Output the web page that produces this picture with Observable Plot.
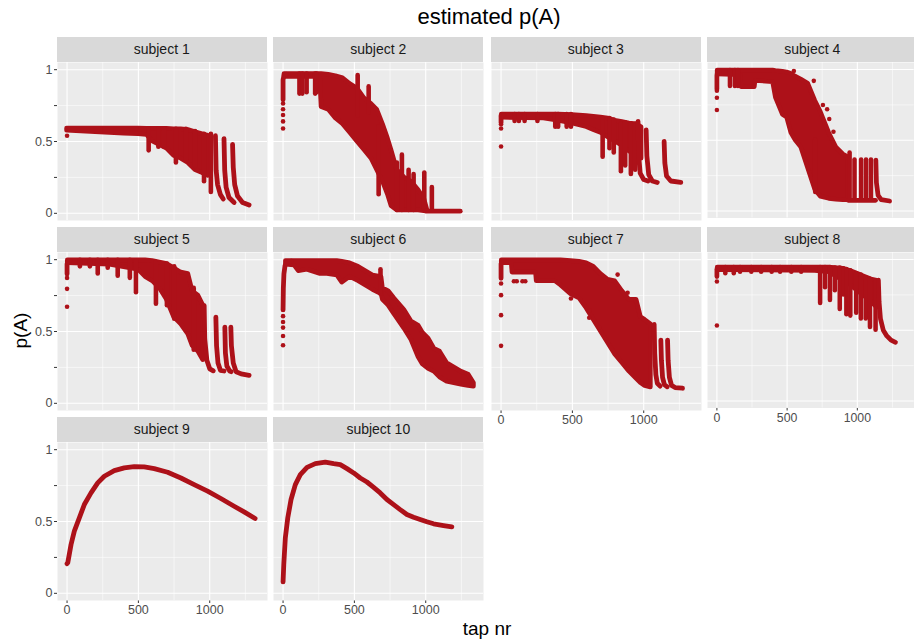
<!DOCTYPE html>
<html><head><meta charset="utf-8">
<script src="https://cdn.jsdelivr.net/npm/d3@7"></script>
<script src="https://cdn.jsdelivr.net/npm/@observablehq/plot@0.6"></script>
<style>
body{margin:0;background:#fff;}
#wrap{position:relative;width:914px;height:640px;overflow:hidden;font-family:"Liberation Sans",Arial,sans-serif;background:#fff;}
.strip{position:absolute;height:25px;background:#D9D9D9;color:#1A1A1A;font-size:14px;line-height:25px;text-align:center;white-space:nowrap;}
.panel{position:absolute;}
.panel svg{display:block;}
.panel svg text{font-size:12.5px;fill:#4D4D4D;font-family:"Liberation Sans",Arial,sans-serif;}
.lbl{position:absolute;color:#000;white-space:nowrap;text-align:center;}
</style></head>
<body><div id="wrap"></div>
<script>
const subjects = ["subject 1","subject 2","subject 3","subject 4","subject 5","subject 6","subject 7","subject 8","subject 9","subject 10"];
const xTicks = [0, 500, 1000];
const xMinor = [250, 750, 1250];
const yTicks = [0, 0.25, 0.5, 0.75, 1];
const yMajor = [0, 0.5, 1];
const yMinor = [0.25, 0.75];

// isolated points [subject, tap, p]
const dots = [
  [1,0,0.54],
  [2,0,0.59],[2,0,0.64],[2,0,0.685],[2,0,0.725],[2,0,0.765],
  [3,0,0.465],[3,0,0.59],[3,0,0.62],
  [4,0,0.714],[4,0,0.8],[4,0,0.85],[4,548,0.99],[4,690,0.92],[4,755,0.75],[4,785,0.72],[4,800,0.65],[4,830,0.56],
  [5,0,0.672],[5,0,0.797],[5,0,0.873],
  [6,0,0.404],[6,0,0.469],[6,0,0.527],[6,0,0.566],[6,0,0.607],
  [7,0,0.40],[7,0,0.614],[7,0,0.753],[7,0,0.834],[7,90,0.85],[7,110,0.85],[7,150,0.85],[7,170,0.85],
  [7,490,0.73],[7,618,0.647],[7,618,0.596],[7,688,0.527],[7,817,0.896],[7,887,0.77],[7,945,0.71],
  [8,0,0.533],[8,0,0.845]
];

// dense clouds [subject, tap, low, high]
const bands = [
  [1,0,0.575,0.59],[1,100,0.57,0.59],[1,200,0.565,0.59],[1,300,0.56,0.59],[1,400,0.555,0.59],[1,500,0.55,0.59],[1,560,0.545,0.588],[1,600,0.5,0.588],[1,700,0.45,0.588],[1,750,0.4,0.585],[1,800,0.38,0.585],[1,850,0.35,0.58],[1,900,0.3,0.565],[1,950,0.28,0.55],[1,990,0.26,0.54],
  [2,10,0.95,0.97],[2,260,0.95,0.97],[2,270,0.74,0.97],[2,320,0.72,0.965],[2,370,0.66,0.955],[2,420,0.62,0.94],[2,470,0.56,0.9],[2,520,0.5,0.87],[2,570,0.44,0.8],[2,620,0.38,0.76],[2,660,0.3,0.72],[2,700,0.22,0.62],[2,735,0.13,0.52],[2,760,0.05,0.44],[2,800,0.02,0.3],[2,850,0.02,0.25],[2,900,0.02,0.22],[2,950,0.02,0.16],[2,990,0.015,0.1],[2,1010,0.015,0.03],
  [3,5,0.665,0.688],[3,300,0.66,0.688],[3,400,0.645,0.688],[3,500,0.625,0.685],[3,600,0.6,0.678],[3,650,0.58,0.672],[3,700,0.56,0.667],[3,750,0.53,0.66],[3,800,0.5,0.645],[3,850,0.47,0.635],[3,900,0.43,0.625],[3,950,0.4,0.62],[3,985,0.38,0.6],
  [4,5,0.965,0.993],[4,170,0.96,0.993],[4,175,0.875,0.993],[4,270,0.875,0.993],[4,275,0.92,0.993],[4,400,0.91,0.993],[4,420,0.8,0.99],[4,470,0.68,0.985],[4,500,0.66,0.98],[4,530,0.55,0.97],[4,560,0.5,0.95],[4,600,0.45,0.93],[4,650,0.3,0.9],[4,700,0.15,0.78],[4,740,0.1,0.7],[4,800,0.085,0.55],[4,850,0.08,0.45],[4,900,0.075,0.4],[4,935,0.075,0.38],
  [5,5,0.975,0.995],[5,300,0.965,0.995],[5,500,0.93,0.995],[5,550,0.88,0.995],[5,600,0.85,0.99],[5,650,0.8,0.98],[5,700,0.72,0.97],[5,750,0.6,0.94],[5,800,0.55,0.91],[5,850,0.48,0.9],[5,880,0.4,0.78],[5,920,0.36,0.75],[5,955,0.3,0.68],
  [6,20,0.965,0.99],[6,80,0.96,0.99],[6,110,0.92,0.99],[6,170,0.93,0.99],[6,262,0.9,0.99],[6,310,0.9,0.99],[6,380,0.89,0.99],[6,415,0.84,0.985],[6,470,0.88,0.975],[6,530,0.85,0.95],[6,580,0.82,0.92],[6,630,0.79,0.89],[6,690,0.76,0.88],[6,700,0.72,0.8],[6,740,0.68,0.78],[6,780,0.62,0.73],[6,850,0.52,0.65],[6,900,0.44,0.57],[6,950,0.32,0.54],[6,980,0.27,0.49],[6,1020,0.24,0.45],[6,1060,0.22,0.38],[6,1100,0.18,0.36],[6,1150,0.15,0.28],[6,1200,0.14,0.25],[6,1250,0.13,0.22],[6,1300,0.12,0.2],[6,1338,0.115,0.14],
  [7,5,0.975,0.995],[7,75,0.975,0.995],[7,80,0.91,0.995],[7,245,0.91,0.995],[7,250,0.85,0.995],[7,380,0.85,0.995],[7,420,0.82,0.995],[7,490,0.76,0.99],[7,550,0.73,0.985],[7,600,0.66,0.975],[7,650,0.58,0.95],[7,700,0.5,0.9],[7,750,0.42,0.86],[7,800,0.34,0.85],[7,850,0.28,0.78],[7,900,0.22,0.72],[7,950,0.17,0.72],[7,980,0.14,0.6],[7,1010,0.12,0.58],[7,1050,0.11,0.55],
  [8,5,0.925,0.943],[8,700,0.92,0.943],[8,800,0.91,0.943],[8,900,0.85,0.935],[8,950,0.82,0.92],[8,1000,0.78,0.9],[8,1050,0.74,0.88],[8,1100,0.7,0.86],[8,1140,0.66,0.85]
];

// vertical streaks of points [subject, tap, low, high]
const spikes = [
  [1,572,0.435,0.585],[1,640,0.46,0.585],[1,680,0.46,0.585],[1,763,0.35,0.585],[1,833,0.365,0.585],[1,897,0.32,0.57],[1,960,0.22,0.55],[1,1008,0.145,0.55],
  [2,115,0.83,0.97],[2,135,0.83,0.97],[2,165,0.84,0.97],[2,225,0.83,0.97],[2,235,0.84,0.97],[2,523,0.68,0.96],[2,600,0.7,0.88],[2,670,0.13,0.6],[2,798,0.02,0.35],[2,833,0.02,0.405],[2,880,0.02,0.3],[2,915,0.02,0.27],[2,990,0.02,0.28],[2,1043,0.02,0.18],
  [3,95,0.64,0.688],[3,125,0.64,0.688],[3,165,0.64,0.688],[3,255,0.64,0.688],[3,380,0.6,0.688],[3,400,0.6,0.688],[3,460,0.6,0.688],[3,490,0.6,0.688],[3,712,0.39,0.66],[3,760,0.45,0.66],[3,790,0.42,0.65],[3,840,0.29,0.62],[3,870,0.33,0.63],[3,910,0.27,0.62],[3,940,0.3,0.62],
  [4,93,0.88,0.993],[4,128,0.88,0.993],[4,150,0.88,0.993],[4,700,0.13,0.5],[4,945,0.08,0.41],[4,980,0.075,0.36],[4,1027,0.075,0.36],[4,1062,0.075,0.36],[4,1097,0.075,0.36],
  [5,90,0.95,0.995],[5,160,0.95,0.995],[5,215,0.9,0.995],[5,285,0.94,0.995],[5,355,0.885,0.995],[5,440,0.87,0.995],[5,483,0.77,0.99],[5,623,0.69,0.98],[5,700,0.68,0.97],[5,751,0.585,0.95],[5,888,0.37,0.8],
  [6,683,0.76,0.93],
  [8,60,0.9,0.943],[8,120,0.9,0.943],[8,165,0.91,0.943],[8,245,0.91,0.943],[8,315,0.91,0.943],[8,390,0.91,0.943],[8,450,0.91,0.943],[8,530,0.91,0.943],[8,600,0.91,0.943],[8,735,0.69,0.943],[8,770,0.8,0.943],[8,805,0.71,0.943],[8,840,0.78,0.94],[8,875,0.647,0.94],[8,900,0.75,0.935],[8,922,0.61,0.93],[8,950,0.6,0.92],[8,992,0.62,0.9],[8,1025,0.58,0.89],[8,1060,0.58,0.87],[8,1090,0.52,0.86],[8,1130,0.5,0.85]
];

// traced runs of points [subject, run, tap, p]
const curves = [
  [1,"a",1040,0.54],[1,"a",1045,0.3],[1,"a",1055,0.2],[1,"a",1075,0.13],[1,"a",1095,0.1],
  [1,"b",1100,0.52],[1,"b",1105,0.3],[1,"b",1115,0.18],[1,"b",1135,0.11],[1,"b",1171,0.075],
  [1,"c",1160,0.48],[1,"c",1165,0.32],[1,"c",1175,0.2],[1,"c",1195,0.12],[1,"c",1230,0.075],[1,"c",1276,0.058],
  [2,"a",0,0.79],[2,"a",0,0.93],[2,"a",8,0.965],[2,"a",20,0.968],
  [2,"b",1000,0.015],[2,"b",1242,0.015],
  [3,"a",0,0.63],[3,"a",0,0.68],[3,"a",8,0.686],[3,"a",20,0.686],
  [3,"b",960,0.64],[3,"b",965,0.4],[3,"b",975,0.28],[3,"b",1000,0.235],[3,"b",1030,0.225],
  [3,"c",1017,0.58],[3,"c",1022,0.4],[3,"c",1035,0.27],[3,"c",1060,0.225],[3,"c",1095,0.215],
  [3,"d",1143,0.5],[3,"d",1148,0.35],[3,"d",1160,0.26],[3,"d",1190,0.225],[3,"d",1260,0.215],
  [4,"a",0,0.86],[4,"a",0,0.96],[4,"a",8,0.99],[4,"a",20,0.993],
  [4,"b",1132,0.36],[4,"b",1136,0.2],[4,"b",1148,0.11],[4,"b",1170,0.08],[4,"b",1230,0.07],
  [4,"c",935,0.075],[4,"c",1130,0.075],
  [5,"a",0,0.9],[5,"a",0,0.97],[5,"a",8,0.993],[5,"a",20,0.993],
  [5,"b",961,0.68],[5,"b",965,0.45],[5,"b",980,0.3],[5,"b",1000,0.24],[5,"b",1025,0.226],
  [5,"c",1043,0.6],[5,"c",1048,0.4],[5,"c",1058,0.28],[5,"c",1075,0.23],[5,"c",1100,0.225],
  [5,"d",1106,0.53],[5,"d",1110,0.35],[5,"d",1120,0.26],[5,"d",1140,0.225],[5,"d",1150,0.22],
  [5,"e",1148,0.53],[5,"e",1152,0.4],[5,"e",1165,0.28],[5,"e",1185,0.22],[5,"e",1220,0.205],[5,"e",1276,0.195],
  [6,"a",0,0.65],[6,"a",2,0.8],[6,"a",6,0.9],[6,"a",14,0.96],[6,"a",30,0.985],[6,"a",60,0.99],
  [7,"a",0,0.87],[7,"a",0,0.97],[7,"a",8,0.995],[7,"a",20,0.995],
  [7,"b",1073,0.55],[7,"b",1077,0.35],[7,"b",1085,0.2],[7,"b",1095,0.14],[7,"b",1115,0.12],
  [7,"c",1120,0.44],[7,"c",1124,0.3],[7,"c",1132,0.18],[7,"c",1145,0.13],[7,"c",1165,0.115],
  [7,"d",1167,0.44],[7,"d",1171,0.3],[7,"d",1180,0.18],[7,"d",1195,0.125],[7,"d",1220,0.11],[7,"d",1272,0.105],
  [8,"a",0,0.88],[8,"a",0,0.93],[8,"a",8,0.94],[8,"a",20,0.94],
  [8,"b",1150,0.855],[8,"b",1155,0.7],[8,"b",1165,0.58],[8,"b",1185,0.5],[8,"b",1210,0.46],[8,"b",1240,0.43],[8,"b",1272,0.415],
  [9,"a",0,0.206],[9,"a",5,0.213],[9,"a",28,0.34],[9,"a",51,0.433],[9,"a",86,0.525],[9,"a",121,0.618],[9,"a",168,0.699],[9,"a",215,0.769],[9,"a",261,0.815],[9,"a",331,0.854],[9,"a",401,0.873],[9,"a",471,0.882],[9,"a",541,0.88],[9,"a",611,0.868],[9,"a",705,0.843],[9,"a",798,0.803],[9,"a",891,0.757],[9,"a",985,0.711],[9,"a",1078,0.66],[9,"a",1171,0.606],[9,"a",1241,0.567],[9,"a",1318,0.521],
  [10,"a",0,0.08],[10,"a",5,0.2],[10,"a",16,0.387],[10,"a",33,0.525],[10,"a",56,0.653],[10,"a",86,0.757],[10,"a",121,0.826],[10,"a",168,0.877],[10,"a",226,0.903],[10,"a",296,0.914],[10,"a",355,0.903],[10,"a",401,0.896],[10,"a",448,0.868],[10,"a",495,0.838],[10,"a",541,0.803],[10,"a",588,0.775],[10,"a",635,0.738],[10,"a",681,0.699],[10,"a",728,0.653],[10,"a",775,0.618],[10,"a",821,0.583],[10,"a",868,0.549],[10,"a",915,0.53],[10,"a",961,0.514],[10,"a",1008,0.498],[10,"a",1055,0.484],[10,"a",1125,0.472],[10,"a",1183,0.463]
];

const RED = "#AD1119";
const colLeft = [56.7, 273.3, 490.7, 707.3];
const rowTop = [36.7, 226.7, 416.7];
const PW = 210, PH = 158, SH = 25;
const wrap = document.getElementById("wrap");

function addLabel(text, x, baseline, fs, rotate) {
  const d = document.createElement("div");
  d.className = "lbl";
  d.textContent = text;
  d.style.fontSize = fs + "px";
  d.style.lineHeight = fs + "px";
  d.style.width = "200px";
  d.style.left = (x - 100) + "px";
  if (rotate) {
    d.style.top = (baseline - fs / 2) + "px";
    d.style.transform = "rotate(-90deg)";
  } else {
    d.style.top = (baseline - 0.846 * fs) + "px";
  }
  wrap.appendChild(d);
}

subjects.forEach((name, i) => {
  const s = i + 1;
  const col = i % 4, row = Math.floor(i / 4);
  const showY = col === 0;
  const showX = row === 2 || (row === 1 && col >= 2);
  const ml = showY ? 40 : 0, mb = showX ? 26 : 0;

  const strip = document.createElement("div");
  strip.className = "strip";
  strip.style.left = colLeft[col] + "px";
  strip.style.top = rowTop[row] + "px";
  strip.style.width = PW + "px";
  strip.textContent = name;
  wrap.appendChild(strip);

  const sb = bands.filter(d => d[0] === s);
  const ss = spikes.filter(d => d[0] === s);
  const sc = curves.filter(d => d[0] === s);
  const sd = dots.filter(d => d[0] === s);

  const plot = Plot.plot({
    width: PW + ml, height: PH + mb,
    marginLeft: ml, marginRight: 0, marginTop: 0, marginBottom: mb,
    style: {background: "transparent", color: "#333333", overflow: "visible"},
    x: {domain: [-67, 1405], ticks: xTicks, tickFormat: d => String(d), tickSize: 3, tickPadding: 2, label: null, axis: showX ? "bottom" : null},
    y: {domain: [-0.05, 1.05], ticks: yTicks, tickSize: 3, tickPadding: 2, label: null,
        tickFormat: d => (yMajor.includes(d) ? String(d) : ""), axis: showY ? "left" : null},
    marks: [
      Plot.frame({fill: "#EBEBEB", stroke: "none"}),
      Plot.ruleY(yMinor, {stroke: "#ffffff", strokeWidth: 0.55}),
      Plot.ruleX(xMinor, {stroke: "#ffffff", strokeWidth: 0.55}),
      Plot.ruleY(yMajor, {stroke: "#ffffff", strokeWidth: 1.1}),
      Plot.ruleX(xTicks, {stroke: "#ffffff", strokeWidth: 1.1}),
      Plot.areaY(sb, {x: d => d[1], y1: d => d[2], y2: d => d[3], fill: RED, stroke: RED, strokeWidth: 4.6, strokeLinejoin: "round"}),
      Plot.ruleX(ss, {x: d => d[1], y1: d => d[2], y2: d => d[3], stroke: RED, strokeWidth: 4.6, strokeLinecap: "round"}),
      Plot.line(sc, {x: d => d[2], y: d => d[3], z: d => d[1], stroke: RED, strokeWidth: 4.8, strokeLinecap: "round", strokeLinejoin: "round"}),
      Plot.dot(sd, {x: d => d[1], y: d => d[2], r: 2.3, fill: RED, stroke: "none"})
    ]
  });
  const holder = document.createElement("div");
  holder.className = "panel";
  holder.style.left = (colLeft[col] - ml) + "px";
  holder.style.top = (rowTop[row] + SH) + "px";
  holder.appendChild(plot);
  wrap.appendChild(holder);
});

addLabel("estimated p(A)", 489, 25, 22, false);
addLabel("tap nr", 487, 635, 19, false);
addLabel("p(A)", 20, 330, 19, true);
</script>
</body></html>
